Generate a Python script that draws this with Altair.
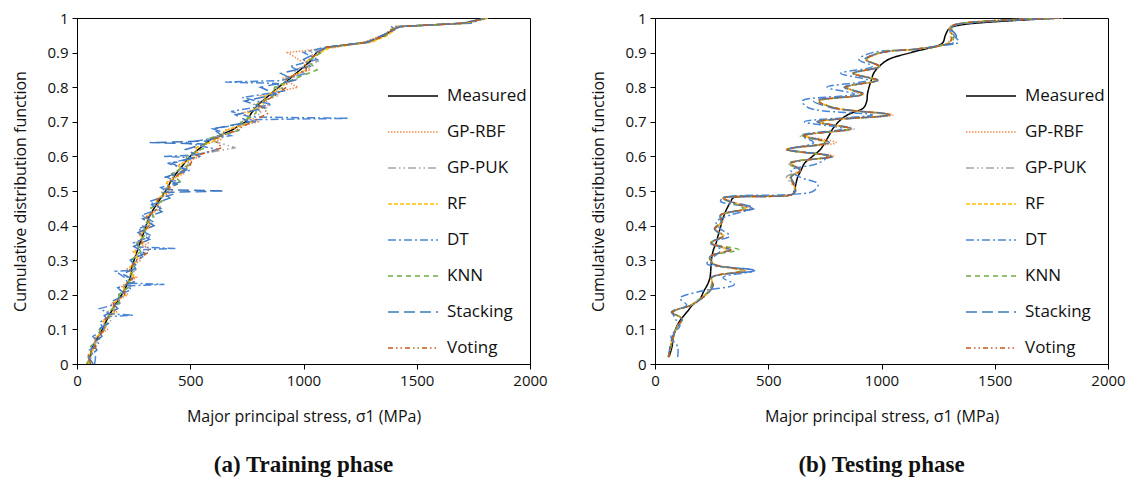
import altair as alt
import pandas as pd

series = ["Measured", "GP-RBF", "GP-PUK", "RF", "DT", "KNN", "Stacking", "Voting"]
colors = ["#000000", "#F4894B", "#A5A5A5", "#FFC000", "#4A86D8", "#70AD47", "#3E78C2", "#C65A1E"]
dashes = [[1, 0], [1.5, 1.5], [8, 3, 1.5, 3, 1.5, 3], [4, 2], [8, 3, 2, 3], [5, 4], [11, 5], [5, 3, 1.5, 3, 1.5, 3]]

x_ticks = [0, 500, 1000, 1500, 2000]
y_ticks = [0, 0.1, 0.2, 0.3, 0.4, 0.5, 0.6, 0.7, 0.8, 0.9, 1.0]

# ---------------- Training phase ----------------
train_cdf = [0.000, 0.025, 0.050, 0.075, 0.100, 0.125, 0.150, 0.175, 0.200, 0.225, 0.250,
             0.275, 0.300, 0.325, 0.350, 0.375, 0.400, 0.425, 0.450, 0.475, 0.500, 0.525,
             0.550, 0.575, 0.600, 0.625, 0.650, 0.675, 0.700, 0.725, 0.750, 0.775, 0.800,
             0.825, 0.850, 0.875, 0.900, 0.915, 0.930, 0.950, 0.965, 0.975, 0.985, 1.000]

train_measured = [50, 58, 68, 90, 112, 130, 150, 172, 197, 218, 236, 240, 252, 265, 278, 292, 305, 318, 340, 365, 391, 412,
                  437, 468, 499, 545, 592, 680, 745, 770, 800, 845, 890, 940, 985, 1030, 1057, 1100, 1283, 1360, 1390, 1420, 1710, 1810]
train_gprbf = [58, 48, 86, 78, 135, 112, 175, 150, 225, 198, 262, 222, 282, 248, 315, 272, 338, 300, 372, 345, 425, 392,
               470, 445, 545, 520, 640, 650, 800, 730, 850, 810, 975, 905, 1030, 990, 930, 1140, 1265, 1345, 1400, 1405, 1725, 1810]
train_gppuk = [44, 70, 58, 105, 98, 148, 132, 190, 180, 238, 220, 262, 238, 288, 262, 310, 290, 340, 322, 388, 372, 438,
               420, 498, 480, 700, 572, 715, 722, 815, 780, 885, 880, 975, 960, 1065, 1030, 1112, 1295, 1355, 1378, 1432, 1698, 1805]
train_rf = [52, 54, 80, 82, 124, 118, 164, 160, 212, 205, 252, 228, 268, 256, 292, 282, 322, 306, 358, 352, 405, 398,
            462, 452, 525, 528, 622, 655, 770, 755, 822, 832, 910, 925, 1010, 1015, 1075, 1118, 1302, 1372, 1402, 1398, 1722, 1815]
train_knn = [42, 64, 60, 100, 102, 142, 140, 184, 184, 232, 226, 256, 240, 280, 268, 304, 296, 334, 326, 380, 378, 460,
             418, 490, 482, 565, 572, 715, 728, 790, 792, 868, 872, 962, 1060, 1020, 1078, 1098, 1278, 1366, 1378, 1426, 1716, 1810]
train_voting = [60, 50, 80, 84, 124, 120, 164, 162, 210, 208, 248, 232, 262, 320, 286, 284, 318, 308, 356, 356, 404, 408,
                452, 500, 515, 640, 605, 700, 772, 845, 800, 872, 925, 928, 1012, 1012, 1068, 1098, 1286, 1362, 1392, 1418, 1712, 1810]

# DT and Stacking: own sample levels (sharp horizontal spikes)
train_dt_cdf = [0.000, 0.020, 0.040, 0.060, 0.080, 0.100, 0.120, 0.137, 0.141, 0.145, 0.160, 0.175, 0.200, 0.215,
                0.226, 0.230, 0.234, 0.250, 0.268, 0.272, 0.290, 0.310, 0.330, 0.334, 0.338, 0.350, 0.370, 0.390,
                0.410, 0.430, 0.450, 0.470, 0.490, 0.510, 0.525, 0.540, 0.560, 0.580, 0.596, 0.600, 0.604, 0.620,
                0.640, 0.660, 0.680, 0.700, 0.706, 0.710, 0.714, 0.730, 0.750, 0.770, 0.790, 0.811, 0.815, 0.819,
                0.840, 0.860, 0.880, 0.900, 0.915, 0.930, 0.950, 0.965, 0.975, 0.985, 1.000]
train_dt = [78, 82, 55, 95, 70, 120, 100, 140, 248, 145, 100, 185, 185, 240,
            222, 386, 225, 210, 170, 262, 245, 290, 272, 434, 275, 250, 330, 270,
            340, 285, 370, 320, 420, 370, 450, 395, 500, 400, 520, 383, 520, 620,
            480, 680, 600, 790, 760, 1200, 765, 680, 860, 730, 920, 880, 654, 900,
            1010, 940, 1060, 1000, 1090, 1290, 1350, 1400, 1390, 1740, 1800]
train_stacking_cdf = [0.000, 0.020, 0.040, 0.060, 0.080, 0.100, 0.120, 0.140, 0.160, 0.180, 0.200, 0.220, 0.240,
                      0.260, 0.280, 0.300, 0.320, 0.340, 0.360, 0.380, 0.400, 0.420, 0.440, 0.460, 0.480, 0.496,
                      0.500, 0.504, 0.520, 0.540, 0.560, 0.580, 0.600, 0.620, 0.636, 0.640, 0.644, 0.660, 0.680,
                      0.700, 0.720, 0.740, 0.760, 0.780, 0.800, 0.820, 0.840, 0.860, 0.880, 0.900, 0.915, 0.930,
                      0.950, 0.965, 0.975, 0.985, 1.000]
train_stacking = [72, 50, 88, 70, 110, 95, 145, 120, 180, 150, 215, 180, 262,
                  200, 270, 235, 300, 250, 320, 270, 340, 290, 375, 330, 410, 380,
                  650, 392, 440, 390, 480, 420, 540, 480, 560, 321, 570, 640, 600,
                  760, 700, 830, 740, 880, 810, 960, 900, 1030, 1000, 1060, 1100, 1280,
                  1350, 1390, 1430, 1700, 1810]

# ---------------- Testing phase ----------------
test_cdf = [0.02, 0.05, 0.08, 0.11, 0.13, 0.15, 0.17, 0.19, 0.21, 0.23, 0.25, 0.27, 0.29, 0.31, 0.33, 0.35, 0.37,
            0.39, 0.41, 0.43, 0.45, 0.47, 0.48, 0.49, 0.50, 0.52, 0.54, 0.56, 0.58, 0.60, 0.62, 0.64, 0.66, 0.68,
            0.70, 0.72, 0.74, 0.76, 0.78, 0.80, 0.82, 0.84, 0.86, 0.88, 0.90, 0.91, 0.92, 0.93, 0.95, 0.97, 0.98, 1.00]

test_measured = [62, 75, 82, 97, 115, 141, 165, 200, 215, 232, 243, 246, 248, 251, 258, 270, 278,
                 287, 295, 305, 318, 335, 345, 605, 615, 622, 630, 645, 660, 695, 730, 750, 768, 785,
                 810, 850, 920, 935, 938, 945, 955, 965, 990, 1030, 1130, 1190, 1250, 1272, 1282, 1300, 1350, 1800]
test_gprbf = [60, 70, 82, 98, 118, 78, 158, 205, 238, 255, 250, 400, 258, 245, 325, 248, 305,
              268, 298, 292, 420, 335, 305, 605, 622, 612, 598, 645, 605, 790, 585, 800, 665, 870,
              725, 1050, 790, 725, 910, 850, 985, 870, 995, 935, 1005, 1150, 1262, 1300, 1312, 1300, 1320, 1800]
test_gppuk = [58, 68, 80, 100, 120, 76, 160, 205, 240, 255, 250, 385, 255, 245, 318, 245, 300,
              262, 292, 290, 395, 330, 300, 605, 618, 605, 580, 635, 590, 770, 585, 750, 640, 880,
              715, 1040, 780, 725, 900, 850, 975, 880, 985, 930, 995, 1145, 1258, 1295, 1305, 1300, 1318, 1800]
test_rf = [60, 68, 80, 100, 120, 75, 160, 205, 240, 255, 250, 390, 255, 245, 320, 245, 300,
           265, 295, 290, 400, 330, 300, 605, 620, 610, 600, 640, 600, 780, 580, 760, 660, 860,
           720, 1030, 800, 720, 920, 840, 980, 880, 990, 930, 1000, 1150, 1260, 1300, 1310, 1300, 1320, 1800]
test_dt = [100, 100, 70, 110, 90, 80, 140, 110, 200, 350, 300, 440, 230, 260, 290, 250, 330,
           290, 270, 330, 430, 290, 300, 600, 700, 720, 640, 600, 720, 760, 600, 700, 650, 830,
           660, 960, 680, 650, 880, 760, 940, 820, 960, 900, 960, 1160, 1250, 1340, 1320, 1300, 1330, 1800]
test_knn = [58, 70, 82, 98, 122, 80, 158, 200, 235, 250, 252, 380, 258, 240, 370, 248, 295,
            262, 290, 295, 390, 325, 298, 605, 620, 612, 595, 640, 590, 775, 590, 755, 650, 855,
            725, 1025, 795, 725, 915, 845, 975, 875, 990, 935, 990, 1150, 1255, 1310, 1320, 1310, 1325, 1800]
test_stacking = [62, 66, 78, 102, 118, 72, 162, 208, 242, 258, 248, 440, 252, 242, 330, 242, 302,
                 262, 292, 288, 440, 330, 296, 605, 620, 615, 602, 642, 598, 785, 578, 770, 660, 865,
                 715, 1035, 790, 700, 925, 835, 985, 875, 995, 925, 1000, 1152, 1262, 1320, 1330, 1305, 1322, 1800]
test_voting = [60, 70, 80, 99, 119, 76, 160, 206, 240, 254, 250, 395, 256, 244, 335, 246, 302,
               264, 294, 290, 410, 330, 300, 605, 620, 610, 598, 642, 600, 780, 582, 765, 658, 862,
               720, 1035, 795, 720, 915, 842, 980, 878, 988, 932, 1000, 1150, 1260, 1302, 1312, 1302, 1320, 1800]


def build(pairs):
    rows = []
    for name, (cdf, vals) in zip(series, pairs):
        for c, v in zip(cdf, vals):
            rows.append({"model": name, "cdf": c, "stress": v})
    return pd.DataFrame(rows)


df_train = build([(train_cdf, train_measured), (train_cdf, train_gprbf), (train_cdf, train_gppuk),
                  (train_cdf, train_rf), (train_dt_cdf, train_dt), (train_cdf, train_knn),
                  (train_stacking_cdf, train_stacking), (train_cdf, train_voting)])
df_test = build([(test_cdf, test_measured), (test_cdf, test_gprbf), (test_cdf, test_gppuk),
                 (test_cdf, test_rf), (test_cdf, test_dt), (test_cdf, test_knn),
                 (test_cdf, test_stacking), (test_cdf, test_voting)])

AX_FONT = "Open Sans"


def legend():
    return alt.Legend(
        orient="none", legendX=310, legendY=52,
        symbolType="stroke", symbolSize=2500, symbolStrokeWidth=1.5,
        labelFont=AX_FONT, labelFontSize=17, labelColor="#111111", labelOffset=8,
        rowPadding=2, labelLimit=200, padding=0,
    )


def panel(df, caption, interp):
    return alt.Chart(df).mark_line(strokeWidth=1.5, interpolate=interp, clip=True).encode(
        x=alt.X("stress:Q", scale=alt.Scale(domain=[0, 2000], nice=False),
                axis=alt.Axis(values=x_ticks, format="d", title="Major principal stress, σ1 (MPa)")),
        y=alt.Y("cdf:Q", scale=alt.Scale(domain=[0, 1], nice=False),
                axis=alt.Axis(values=y_ticks, format=".1~f", title="Cumulative distribution function")),
        color=alt.Color("model:N", scale=alt.Scale(domain=series, range=colors), legend=legend(), title=""),
        strokeDash=alt.StrokeDash("model:N", scale=alt.Scale(domain=series, range=dashes), legend=legend(), title=""),
        order=alt.Order("cdf:Q"),
    ).properties(
        width=453, height=346,
        title=alt.TitleParams(caption, orient="bottom", font="Liberation Serif", fontSize=23,
                              fontWeight="bold", color="#111111", offset=30, anchor="middle"),
    )


left = panel(df_train, "(a) Training phase", "linear")
right = panel(df_test, "(b) Testing phase", "catmull-rom")

chart = alt.hconcat(left, right, spacing=42).resolve_scale(
    color="independent", strokeDash="independent"
).resolve_legend(
    color="independent", strokeDash="independent"
).configure(
    padding={"top": 2, "left": 4, "right": 0, "bottom": 0}
).configure_view(
    stroke="#000000", strokeWidth=1
).configure_axis(
    grid=False, domainColor="#000000", tickColor="#000000", labelColor="#111111", titleColor="#111111",
    labelFont=AX_FONT, titleFont=AX_FONT, labelFontSize=15, titleFontSize=16, titleFontWeight="normal",
    tickSize=5, labelPadding=4, labelFlush=False,
).configure_axisY(
    titlePadding=18,
).configure_axisX(
    titlePadding=20,
)

chart.save("out.html", embed_options={"renderer": "svg", "actions": False})
